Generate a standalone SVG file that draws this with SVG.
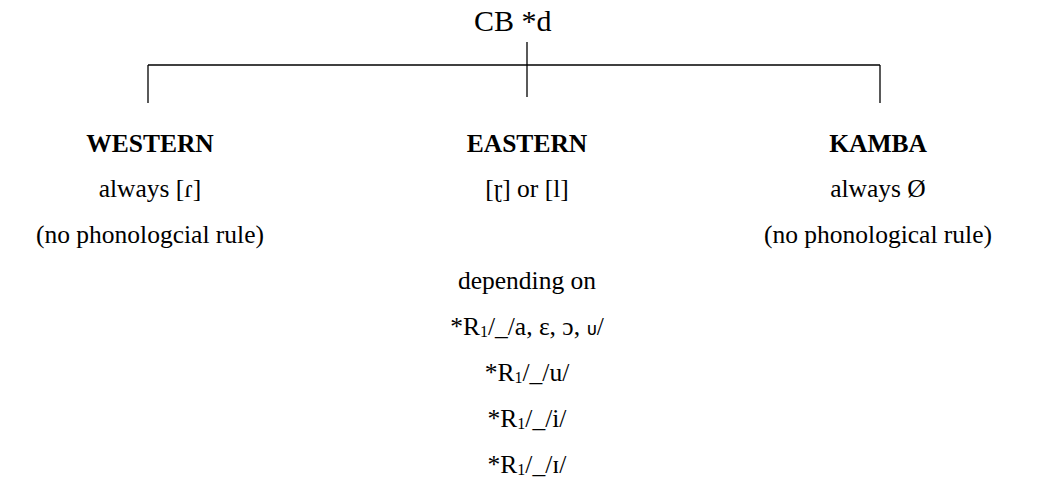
<svg xmlns="http://www.w3.org/2000/svg" width="1053" height="488" viewBox="0 0 1053 488">
  <style>
    text { font-family: "Liberation Serif", "Times New Roman", serif; font-size: 25.5px; fill: #000; text-anchor: middle; }
    .b { font-weight: bold; }
    .top { font-size: 30px; text-anchor: start; }
    .sub { font-size: 16px; }
    .sc { font-family: "DejaVu Sans", sans-serif; font-size: 18px; }
    .ln { stroke: #000; stroke-width: 1.3; fill: none; }
  </style>
  <rect width="1053" height="488" fill="#fff"/>

  <g id="root">
    <text class="top" x="474" y="31">CB *d</text>
  </g>

  <g id="connectors">
    <line class="ln" x1="148" y1="65" x2="880" y2="65"/>
    <line class="ln" x1="527" y1="42" x2="527" y2="97"/>
    <line class="ln" x1="148" y1="65" x2="148" y2="103"/>
    <line class="ln" x1="880" y1="65" x2="880" y2="103"/>
  </g>

  <g id="western">
    <text class="b" x="150" y="152">WESTERN</text>
    <text x="150" y="197">always [ɾ]</text>
    <text x="150" y="243">(no phonologcial rule)</text>
  </g>

  <g id="eastern">
    <text class="b" x="527" y="152">EASTERN</text>
    <text x="527" y="197">[ɽ] or [l]</text>
    <text x="527" y="289">depending on</text>
    <text x="527" y="335">*R<tspan class="sub" dy="2">1</tspan><tspan dy="-2">/_/a, ɛ, ɔ, </tspan><tspan class="sc">ᴜ</tspan>/</text>
    <text x="527" y="381">*R<tspan class="sub" dy="2">1</tspan><tspan dy="-2">/_/u/</tspan></text>
    <text x="527" y="427">*R<tspan class="sub" dy="2">1</tspan><tspan dy="-2">/_/i/</tspan></text>
    <text x="527" y="473">*R<tspan class="sub" dy="2">1</tspan><tspan dy="-2">/_/ɪ/</tspan></text>
  </g>

  <g id="kamba">
    <text class="b" x="878" y="152">KAMBA</text>
    <text x="878" y="197">always Ø</text>
    <text x="878" y="243">(no phonological rule)</text>
  </g>
</svg>
